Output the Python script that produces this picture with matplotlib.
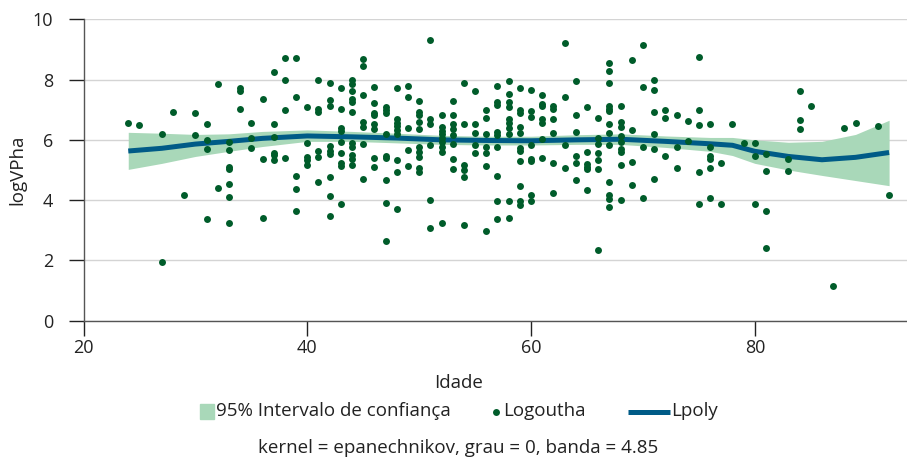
import numpy as np
import matplotlib
matplotlib.use("Agg")
import matplotlib.pyplot as plt
from matplotlib.patches import Rectangle
from matplotlib.lines import Line2D

plt.rcParams['font.family'] = ['Open Sans', 'DejaVu Sans']

# scatter data: ages (columns) and observed logVPha values
idade_col = [24, 25, 27, 28, 29, 30, 31, 32, 33, 34, 35, 36, 37, 38, 39, 40,
             41, 42, 43, 44, 45, 46, 47, 48, 49, 50, 51, 52, 53, 54, 55, 56,
             57, 58, 59, 60, 61, 62, 63, 64, 65, 66, 67, 68, 69, 70, 71, 72,
             73, 74, 75, 76, 77, 78, 79, 80, 81, 83, 84, 85, 87, 88, 89, 91, 92]
logvpha_col = [
    [6.55], [6.49], [6.20, 1.96], [6.91], [4.18], [6.90, 6.17],
    [6.52, 5.99, 5.69, 3.39], [7.86, 4.39],
    [5.94, 5.66, 5.11, 5.03, 4.54, 4.09, 3.25], [7.71, 7.62, 7.02],
    [6.56, 6.07, 5.73], [7.37, 5.36, 3.41],
    [8.25, 6.51, 6.08, 5.58, 5.49, 5.34], [8.73, 7.98, 7.00, 5.40],
    [8.70, 7.42, 4.81, 4.38, 3.63], [7.10, 5.91, 5.44, 5.33, 5.16],
    [7.98, 7.01, 6.92, 5.64, 5.44, 4.60],
    [7.88, 7.32, 7.12, 5.79, 5.64, 5.53, 4.78, 4.15, 3.47],
    [7.71, 7.04, 6.38, 6.29, 5.94, 5.55, 5.24, 5.14, 3.87],
    [7.98, 7.85, 7.63, 7.34, 7.26, 6.91, 5.90, 5.77, 5.49, 5.35, 5.16],
    [8.69, 8.45, 7.50, 6.60, 6.44, 5.86, 4.70],
    [7.74, 7.21, 6.90, 6.82, 6.54, 6.35, 5.40, 5.10],
    [7.10, 6.99, 6.88, 6.18, 5.46, 5.41, 4.66, 3.89, 2.65],
    [7.73, 6.68, 6.57, 6.46, 6.32, 6.21, 5.33, 4.94, 3.70],
    [7.79, 7.41, 6.38, 5.68, 5.13],
    [7.30, 6.91, 6.82, 6.60, 6.35, 5.75, 5.61, 5.44, 5.05, 4.94],
    [9.30, 6.68, 6.52, 5.82, 4.01, 3.06],
    [6.82, 6.43, 6.29, 6.18, 6.05, 5.94, 5.77, 5.61, 3.25],
    [7.29, 6.82, 6.54, 6.35, 6.16, 5.85, 5.38, 5.02],
    [7.88, 6.52, 5.16, 5.00, 4.78, 3.17],
    [7.61, 6.52, 6.24, 5.83, 5.57],
    [6.99, 6.71, 6.19, 5.77, 5.57, 5.13, 2.97],
    [7.78, 7.26, 7.17, 6.27, 6.16, 5.77, 4.81, 3.96, 3.38],
    [7.96, 7.51, 7.24, 7.10, 6.68, 6.57, 6.40, 6.19, 3.96, 3.40],
    [7.72, 6.99, 6.88, 6.44, 6.24, 5.72, 5.63, 5.30, 4.47, 3.96, 3.83],
    [7.67, 6.97, 6.77, 5.83, 5.38, 5.30, 4.18, 3.96],
    [7.48, 7.18, 7.12, 6.68, 6.57, 6.02, 5.41],
    [7.12, 7.01, 6.68, 6.24, 5.22, 4.24],
    [9.20, 7.43, 5.83, 5.07],
    [7.96, 6.82, 6.25, 5.47, 5.24, 4.67],
    [7.08, 5.60, 5.19, 5.11, 5.03, 4.32],
    [6.72, 6.05, 5.86, 5.57, 5.33, 5.03, 2.34],
    [8.54, 8.29, 7.87, 7.12, 7.04, 6.95, 6.54, 6.24, 5.83, 4.59, 4.17, 4.04, 3.76],
    [7.12, 6.60, 6.44, 6.14, 5.94, 5.69, 5.61, 5.16, 4.02],
    [8.64, 6.32, 5.25, 4.50],
    [9.16, 7.77, 5.77, 4.08],
    [8.00, 7.65, 6.91, 6.18, 5.69, 4.70],
    [6.99, 6.73, 5.46], [6.84, 5.76, 5.07], [6.62, 5.96],
    [8.75, 6.99, 6.48, 4.92, 3.86],
    [6.54, 5.77, 5.46, 5.37, 5.07, 4.06],
    [5.24, 3.86], [6.52], [5.90], [5.88, 5.46, 3.87],
    [5.53, 4.97, 3.64, 2.41], [5.36, 4.96], [7.62, 6.65, 6.36], [7.12],
    [1.14], [6.38], [6.57], [6.46], [4.18],
]

# local polynomial fit and 95% CI
fit_idade = [24, 27, 30, 33, 36, 40, 44, 48, 52, 56, 60, 64, 68, 72, 76, 78,
             80, 83, 86, 89, 92]
fit_lpoly = [5.63, 5.72, 5.86, 5.95, 6.05, 6.13, 6.10, 6.06, 6.00, 5.98, 5.97,
             6.00, 6.02, 5.95, 5.87, 5.82, 5.62, 5.45, 5.34, 5.42, 5.58]
ci_upper = [6.25, 6.22, 6.18, 6.20, 6.28, 6.33, 6.28, 6.22, 6.15, 6.12, 6.12,
            6.17, 6.20, 6.13, 6.08, 6.08, 6.00, 5.92, 5.95, 6.18, 6.65]
ci_lower = [5.02, 5.22, 5.45, 5.62, 5.78, 5.95, 5.95, 5.90, 5.85, 5.83, 5.83,
            5.85, 5.85, 5.75, 5.62, 5.48, 5.22, 5.00, 4.82, 4.65, 4.48]

x_ticks = [20, 40, 60, 80]
y_ticks = [0, 2, 4, 6, 8, 10]

c_dot = '#005c2a'
c_band = '#a9d8b9'
c_line = '#005b87'
c_text = '#222222'
fs_tick = 13
fs_text = 13.5

idade = np.repeat(idade_col, [len(v) for v in logvpha_col])
logvpha = np.concatenate(logvpha_col)

W, H = 907, 459
fig = plt.figure(figsize=(W / 100, H / 100), dpi=100)
ax = fig.add_axes([83.5 / W, (H - 320.7) / H, (W - 83.5) / W, 301.4 / H])

ax.fill_between(fit_idade, ci_lower, ci_upper, color=c_band, lw=0, zorder=2)
ax.plot(fit_idade, fit_lpoly, color=c_line, lw=3.6, zorder=3,
        solid_capstyle='butt')
ax.scatter(idade, logvpha, s=25, color=c_dot, lw=0, zorder=4)

ax.set_xlim(20, 93.6)
ax.set_ylim(0, 10)
ax.set_xticks(x_ticks)
ax.set_yticks(y_ticks)
ax.yaxis.grid(True, color='#d4d4d4', lw=1.0)
ax.set_axisbelow(True)
for s in ['top', 'right']:
    ax.spines[s].set_visible(False)
for s in ['left', 'bottom']:
    ax.spines[s].set_color('#555555')
    ax.spines[s].set_linewidth(1.0)
ax.tick_params(axis='y', length=11, width=1, color='#222222', pad=11,
               labelsize=fs_tick, labelcolor=c_text)
ax.tick_params(axis='x', length=10.5, width=1, color='#222222', pad=3,
               labelsize=fs_tick, labelcolor=c_text)

fig.text(17 / W, 1 - 170 / H, 'logVPha', rotation=90, ha='center',
         va='center', fontsize=fs_text, color=c_text)
fig.text(459 / W, 1 - 383 / H, 'Idade', ha='center', va='center',
         fontsize=fs_text, color=c_text)
fig.text(458 / W, 1 - 448 / H, 'kernel = epanechnikov, grau = 0, banda = 4.85',
         ha='center', va='center', fontsize=fs_text, color=c_text)

# legend row
ly = 1 - 411 / H
fig.patches.append(Rectangle((200 / W, 1 - 419 / H), 14 / W, 15 / H,
                             transform=fig.transFigure, color=c_band))
fig.text(216 / W, ly, '95% Intervalo de confiança', ha='left', va='center',
         fontsize=fs_text, color=c_text)
fig.lines.append(Line2D([496 / W], [1 - 412 / H], marker='o', ms=5,
                        color=c_dot, mew=0, transform=fig.transFigure))
fig.text(503 / W, ly, 'Logoutha', ha='left', va='center', fontsize=fs_text,
         color=c_text)
fig.lines.append(Line2D([627.5 / W, 670 / W], [1 - 412 / H, 1 - 412 / H],
                        color=c_line, lw=3.6, transform=fig.transFigure,
                        solid_capstyle='butt'))
fig.text(671 / W, ly, 'Lpoly', ha='left', va='center', fontsize=fs_text,
         color=c_text)

fig.savefig('out.png', dpi=100)
